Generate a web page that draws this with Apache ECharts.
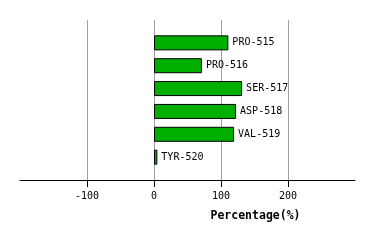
<!DOCTYPE html>
<html><head><meta charset="utf-8">
<script src="https://cdn.jsdelivr.net/npm/echarts@6/dist/echarts.min.js"></script>
<style>html,body{margin:0;padding:0;background:#fff}#c{width:374px;height:240px}</style>
</head><body><div id="c"></div>
<script>
const categories = ['PRO-515','PRO-516','SER-517','ASP-518','VAL-519','TYR-520'];
const values = [111, 71.5, 131.5, 122.5, 119.5, 5];
const tickValues = [-100, 0, 100, 200];

const padCats = [''].concat(categories, ['']);
const padVals = [null].concat(values, [null]);
const font = 'DejaVu Sans Mono';
const chart = echarts.init(document.getElementById('c'), null, {renderer:'canvas'});
chart.setOption({
  animation:false,
  grid:{left:20, right:19, top:20, bottom:60, containLabel:false},
  xAxis:{
    type:'value', min:-200, max:300, interval:100,
    axisLine:{show:true, lineStyle:{color:'#000', width:1}},
    axisTick:{show:true, length:7, customValues:tickValues, lineStyle:{color:'#000'}},
    axisLabel:{customValues:tickValues, color:'#000', fontFamily:font, fontSize:10, margin:11},
    splitLine:{show:true, showMinLine:true, showMaxLine:true, lineStyle:{color:'#a0a0a0', width:1}},
    name:'Percentage(%)', nameLocation:'middle', nameGap:30,
    nameTextStyle:{fontFamily:font, fontSize:11.5, fontWeight:'bold', color:'#000', padding:[0,0,0,136]}
  },
  yAxis:{
    type:'category', data:padCats, inverse:true, boundaryGap:false,
    axisLine:{show:false}, axisTick:{show:false}, axisLabel:{show:false}, splitLine:{show:false}
  },
  series:[{
    type:'bar', data:padVals, barWidth:15,
    itemStyle:{color:'#00b000', borderColor:'#000', borderWidth:1},
    label:{show:true, position:'right', distance:4, formatter:p=>padCats[p.dataIndex], fontFamily:font, fontSize:10, color:'#000'}
  }]
});
</script></body></html>
